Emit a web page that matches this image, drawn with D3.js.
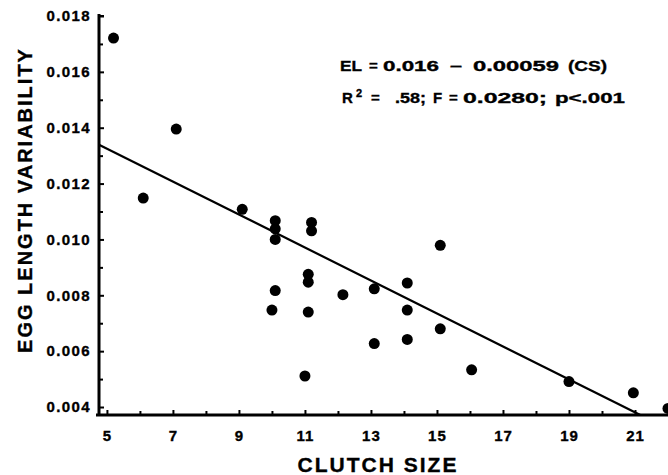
<!DOCTYPE html>
<html>
<head>
<meta charset="utf-8">
<script src="https://cdn.jsdelivr.net/npm/d3@7"></script>
<style>
  html, body { margin: 0; padding: 0; background: #fff; }
  svg { display: block; }
  text { font-family: "Liberation Sans", Arial, Helvetica, sans-serif; font-weight: bold; fill: #000; }
  .heavy { stroke: #000; stroke-width: 0.35px; }
</style>
</head>
<body>
<svg id="chart" width="668" height="475"></svg>
<script>
// Clutch size vs. egg length variability, one point per clutch
const clutchSize = [5.2, 6.1, 7.1, 9.1, 10.1, 10.1, 10.1, 10.1, 10.0,
  11.2, 11.2, 11.1, 11.1, 11.1, 11.0, 12.15, 13.1, 13.1,
  14.1, 14.1, 14.1, 15.1, 15.1, 16.05, 19.0, 20.95, 22.0];
const eggLengthVariability = [0.01721, 0.01148, 0.01395, 0.01108, 0.01067, 0.01038, 0.01000, 0.00817, 0.00747,
  0.01061, 0.01031, 0.00875, 0.00847, 0.00740, 0.00511, 0.00802, 0.00823, 0.00627,
  0.00844, 0.00747, 0.00642, 0.00979, 0.00680, 0.00533, 0.00491, 0.00451, 0.00395];

// Least-squares fit drawn through the points
const fitIntercept = 0.0162;
const fitSlope = -0.00059;

const xTickValues = [5, 7, 9, 11, 13, 15, 17, 19, 21];
const xMinorTickValues = [6, 8, 10, 12, 14, 16, 18, 20];
const yTickValues = [0.004, 0.006, 0.008, 0.010, 0.012, 0.014, 0.016, 0.018];
const yMinorTickValues = [0.005, 0.007, 0.009, 0.011, 0.013, 0.015, 0.017];

// Regression statistics, written as word tokens
const equationTokens = ["EL", "=", "0.016", "\u2013", "0.00059", "(CS)"];
const statsTokens = ["R", "2", "=", ".58;", "F", "=", "0.0280;", "p<.001"];

const xTitle = "CLUTCH SIZE";
const yTitle = "EGG LENGTH VARIABILITY";

// Layout of the annotation tokens: left edge and set width (0 = natural)
const equationLayout = [[340, 22], [369, 0], [383, 56], [450, 12], [473, 86], [568, 39]];
const statsLayout = [[342, 0], [356, 0], [371, 0], [395, 31], [433, 0], [449, 0], [463, 84], [555, 70]];

const svg = d3.select("#chart");

const x = d3.scaleLinear().domain([4.76, 22]).range([99, 668]);
const y = d3.scaleLinear().domain([0.003714, 0.018]).range([415, 16]);

const axisLeftX = x.range()[0];
const axisBottomY = y.range()[0];

// Y axis: labelled ticks plus unlabelled minor ticks, all pointing inward
const gy = svg.append("g").attr("transform", `translate(${axisLeftX},0)`);
gy.call(d3.axisLeft(y).tickValues(yTickValues).tickSize(-5).tickPadding(8)
  .tickFormat(d3.format(".3f")));
gy.call(g => g.select(".domain").remove());
gy.selectAll(".tick line").attr("stroke-width", 2);
gy.selectAll(".tick text").attr("font-size", 15).attr("letter-spacing", 1.4).attr("class", "heavy")
  .style("font-family", '"Liberation Sans", Arial, sans-serif').style("font-weight", "bold");

const gyMinor = svg.append("g").attr("transform", `translate(${axisLeftX},0)`);
gyMinor.call(d3.axisLeft(y).tickValues(yMinorTickValues).tickSize(-4).tickFormat(""));
gyMinor.call(g => g.select(".domain").remove());
gyMinor.selectAll(".tick line").attr("stroke-width", 2);

// X axis
const gx = svg.append("g").attr("transform", `translate(0,${axisBottomY})`);
gx.call(d3.axisBottom(x).tickValues(xTickValues).tickSize(-5).tickPadding(15)
  .tickFormat(d3.format("d")));
gx.call(g => g.select(".domain").remove());
gx.selectAll(".tick line").attr("stroke-width", 2);
gx.selectAll(".tick text").attr("font-size", 15).attr("letter-spacing", 1).attr("class", "heavy")
  .style("font-family", '"Liberation Sans", Arial, sans-serif').style("font-weight", "bold");

const gxMinor = svg.append("g").attr("transform", `translate(0,${axisBottomY})`);
gxMinor.call(d3.axisBottom(x).tickValues(xMinorTickValues).tickSize(-4).tickFormat(""));
gxMinor.call(g => g.select(".domain").remove());
gxMinor.selectAll(".tick line").attr("stroke-width", 2);

// Axis lines
svg.append("line")
  .attr("x1", axisLeftX).attr("x2", axisLeftX)
  .attr("y1", y.range()[1] - 2).attr("y2", axisBottomY + 1)
  .attr("stroke", "#000").attr("stroke-width", 3);
svg.append("line")
  .attr("x1", axisLeftX - 3).attr("x2", x.range()[1])
  .attr("y1", axisBottomY).attr("y2", axisBottomY)
  .attr("stroke", "#000").attr("stroke-width", 3);
// small cap at the top of the y axis
svg.append("line")
  .attr("x1", axisLeftX).attr("x2", axisLeftX + 5)
  .attr("y1", y(0.018)).attr("y2", y(0.018))
  .attr("stroke", "#000").attr("stroke-width", 2);

// Regression line, from the y axis down to the x axis
const xStart = x.domain()[0];
const xEnd = (y.domain()[0] - fitIntercept) / fitSlope;
svg.append("line")
  .attr("x1", x(xStart)).attr("y1", y(fitIntercept + fitSlope * xStart))
  .attr("x2", x(xEnd)).attr("y2", y(fitIntercept + fitSlope * xEnd))
  .attr("stroke", "#000").attr("stroke-width", 2.2);

// Data points
const points = clutchSize.map((c, i) => ({ c, v: eggLengthVariability[i] }));
svg.append("g").selectAll("circle").data(points).join("circle")
  .attr("cx", d => x(d.c)).attr("cy", d => y(d.v)).attr("r", 5.5)
  .attr("fill", "#000");

// Regression annotation: wide-set glyphs stretched to each token's width
function drawTokens(tokens, layout, baseline, superscriptIndex) {
  const g = svg.append("g");
  tokens.forEach((tok, i) => {
    const [left, width] = layout[i];
    const isSup = i === superscriptIndex;
    const t = g.append("text")
      .attr("class", "heavy")
      .attr("x", left)
      .attr("y", isSup ? baseline - 6 : baseline)
      .attr("font-size", isSup ? 11 : 15)
      .text(tok);
    if (width > 0) t.attr("textLength", width).attr("lengthAdjust", "spacingAndGlyphs");
  });
}
drawTokens(equationTokens, equationLayout, 71, -1);
drawTokens(statsTokens, statsLayout, 103, 1);

// Axis titles
svg.append("text")
  .attr("x", 378).attr("y", 472)
  .attr("text-anchor", "middle")
  .attr("font-size", 21).attr("letter-spacing", 2)
  .attr("class", "heavy")
  .text(xTitle);

svg.append("text")
  .attr("transform", "translate(32,200) rotate(-90)")
  .attr("text-anchor", "middle")
  .attr("font-size", 20).attr("letter-spacing", 2)
  .attr("class", "heavy")
  .text(yTitle);
</script>
</body>
</html>
